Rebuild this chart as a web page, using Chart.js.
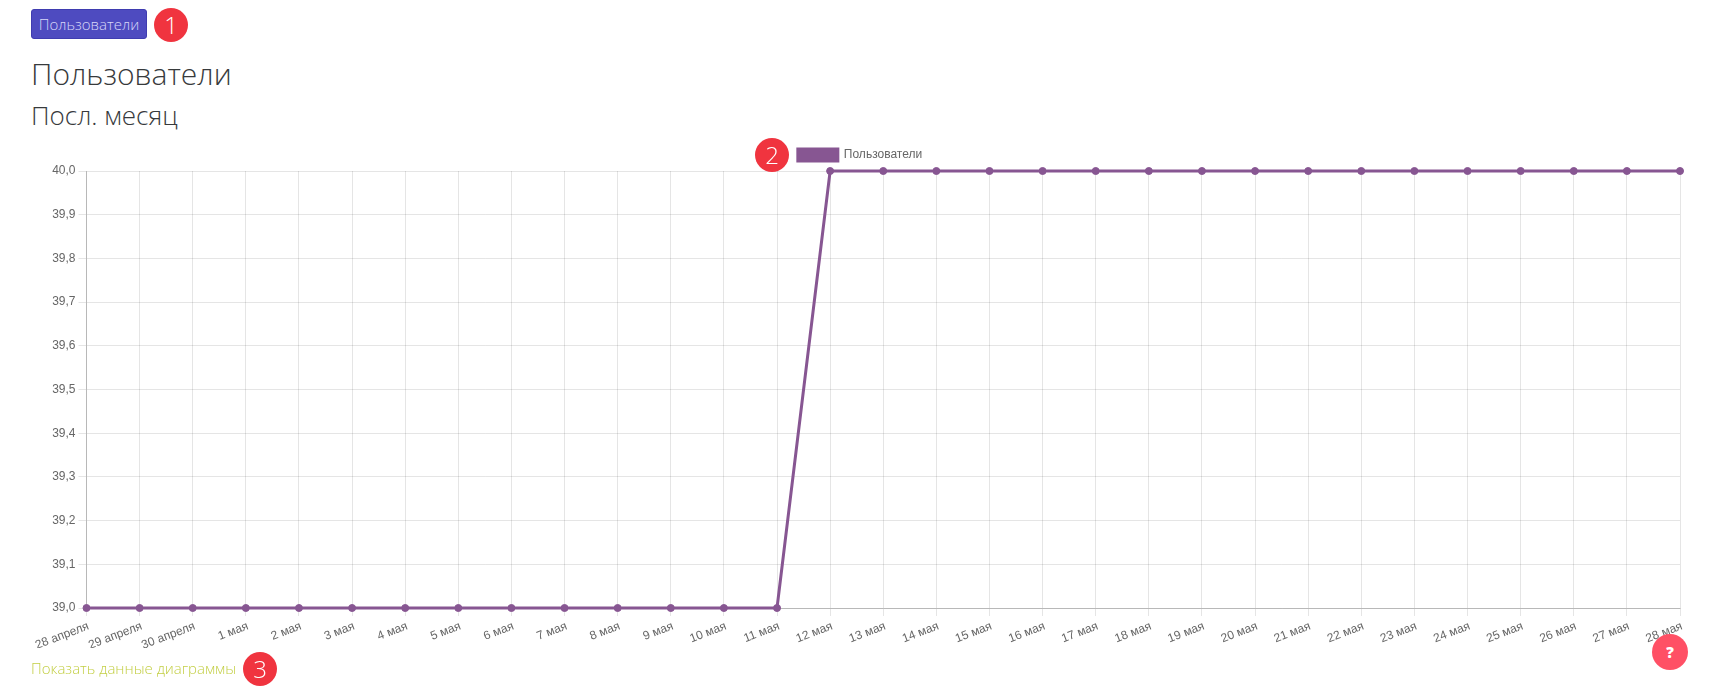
<!DOCTYPE html>
<html>
<head>
    <meta charset="utf-8">
    <title>Пользователи</title>
    <script src="https://cdn.jsdelivr.net/npm/chart.js"></script>
    <style>
        html, body { margin: 0; padding: 0; background: #fff; }
        body { width: 1720px; height: 695px; position: relative; overflow: hidden; font-family: "Open Sans", sans-serif; font-weight: 300; color: #373a3c; }
        .btn { position: absolute; left: 31px; top: 9px; width: 116px; height: 30px; box-sizing: border-box; background: #4e4bc0; border: 1px solid #3f3cb0; border-radius: 3px; color: #d8d8f8; font-size: 15px; line-height: 28px; text-align: center; }
        h1, h2 { position: absolute; left: 31px; margin: 0; font-weight: 300; white-space: nowrap; }
        h1 { top: 52px; font-size: 30px; line-height: 44px; }
        h2 { top: 97px; font-size: 26px; line-height: 36px; }
        .badge { position: absolute; width: 34px; height: 34px; border-radius: 50%; background: #f0343f; color: #fff; font-size: 24px; line-height: 34px; text-align: center; z-index: 2; }
        .help { position: absolute; left: 1652px; top: 634px; width: 36px; height: 36px; border-radius: 50%; background: #ff5065; color: #fff; font-weight: 800; font-size: 15px; line-height: 36px; text-align: center; z-index: 2; }
        .link { position: absolute; left: 31px; top: 656px; font-size: 15px; line-height: 24px; color: #c3cf45; }
        #graphContainer { position: absolute; left: 31px; top: 139px; width: 1658px; height: 524px; }
    </style>
</head>
<body>
    <div class="btn">Пользователи</div>
    <div class="badge" style="left:154px;top:8px">1</div>
    <h1>Пользователи</h1>
    <h2>Посл. месяц</h2>

    <div id="graphContainer">
        <canvas id="myChart"></canvas>
    </div>
    <div class="badge" style="left:755px;top:138px">2</div>

    <div class="link">Показать данные диаграммы</div>
    <div class="badge" style="left:243px;top:652px">3</div>
    <div class="help">?</div>

<script>
    const days = [
        '28 апреля', '29 апреля', '30 апреля', '1 мая', '2 мая', '3 мая', '4 мая', '5 мая',
        '6 мая', '7 мая', '8 мая', '9 мая', '10 мая', '11 мая', '12 мая', '13 мая',
        '14 мая', '15 мая', '16 мая', '17 мая', '18 мая', '19 мая', '20 мая', '21 мая',
        '22 мая', '23 мая', '24 мая', '25 мая', '26 мая', '27 мая', '28 мая'
    ];
    const users = [
        39, 39, 39, 39, 39, 39, 39, 39, 39, 39, 39, 39, 39, 39,
        40, 40, 40, 40, 40, 40, 40, 40, 40, 40, 40, 40, 40, 40, 40, 40, 40
    ];
    const yTickLabels = ['39,0', '39,1', '39,2', '39,3', '39,4', '39,5', '39,6', '39,7', '39,8', '39,9', '40,0'];

    const purple = '#875692';
    const fontFamily = '"Liberation Sans", Arial, sans-serif';

    Chart.defaults.font.family = fontFamily;
    Chart.defaults.font.size = 12;
    Chart.defaults.color = '#666';

    const ctx = document.getElementById('myChart').getContext('2d');
    const myChart = new Chart(ctx, {
        type: 'line',
        data: {
            labels: days,
            datasets: [
                {
                    label: 'Пользователи',
                    data: users,
                    borderColor: purple,
                    backgroundColor: purple,
                    borderWidth: 3,
                    pointRadius: 3.5,
                    pointBorderWidth: 1,
                    pointBackgroundColor: purple,
                    pointBorderColor: purple,
                    tension: 0,
                    fill: false,
                    clip: false,
                },
            ],
        },
        options: {
            responsive: true,
            maintainAspectRatio: false,
            animation: false,
            devicePixelRatio: 1,
            layout: {
                padding: { top: 0, right: 9, bottom: 15, left: 9 },
            },
            plugins: {
                legend: {
                    display: true,
                    position: 'top',
                    labels: { boxWidth: 40, boxHeight: 12, padding: 10, color: '#666' },
                },
                tooltip: { enabled: false },
            },
            scales: {
                x: {
                    afterFit: scale => { scale.height = 40; scale.paddingLeft = 0; scale.paddingRight = 0; },
                    grid: { color: 'rgba(0,0,0,0.1)', tickLength: 8 },
                    border: { color: 'rgba(0,0,0,0.2)' },
                    ticks: { minRotation: 21, maxRotation: 21, autoSkip: false, padding: 3, labelOffset: 2 },
                },
                y: {
                    min: 39,
                    max: 40,
                    afterFit: scale => { scale.width = 46.5; },
                    grid: { color: 'rgba(0,0,0,0.1)', tickLength: 8 },
                    border: { color: 'rgba(0,0,0,0.2)' },
                    ticks: {
                        stepSize: 0.1,
                        padding: 3,
                        callback: (value, index) => yTickLabels[index],
                    },
                },
            },
        },
    });
</script>
</body>
</html>
